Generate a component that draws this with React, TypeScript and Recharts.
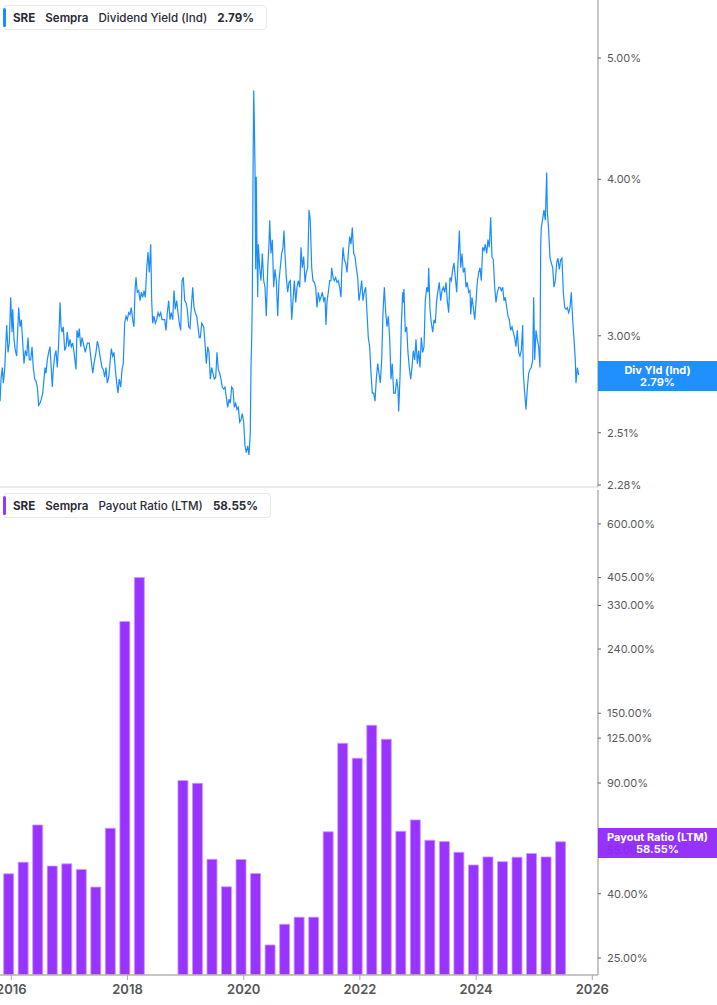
import { LineChart, Line, BarChart, Bar, XAxis, YAxis } from 'recharts';

// Dividend yield (Ind), % (decimal year, value)
const yieldDates = [
  2015.806, 2015.822, 2015.845, 2015.862, 2015.886, 2015.92, 2015.943, 2015.965, 2015.989, 2016.012,
  2016.024, 2016.046, 2016.068, 2016.092, 2016.103, 2016.127, 2016.149, 2016.172, 2016.196, 2016.218,
  2016.24, 2016.265, 2016.287, 2016.309, 2016.333, 2016.356, 2016.378, 2016.402, 2016.425, 2016.447,
  2016.471, 2016.493, 2016.516, 2016.54, 2016.562, 2016.58, 2016.597, 2016.619, 2016.643, 2016.666,
  2016.688, 2016.705, 2016.722, 2016.746, 2016.769, 2016.791, 2016.815, 2016.838, 2016.855, 2016.872,
  2016.894, 2016.919, 2016.941, 2016.963, 2016.987, 2017.01, 2017.032, 2017.056, 2017.079, 2017.113,
  2017.13, 2017.153, 2017.17, 2017.194, 2017.216, 2017.239, 2017.273, 2017.308, 2017.342, 2017.366,
  2017.401, 2017.423, 2017.457, 2017.48, 2017.504, 2017.526, 2017.561, 2017.583, 2017.607, 2017.629,
  2017.652, 2017.676, 2017.698, 2017.721, 2017.745, 2017.767, 2017.79, 2017.814, 2017.836, 2017.858,
  2017.883, 2017.905, 2017.927, 2017.951, 2017.974, 2017.996, 2018.02, 2018.043, 2018.065, 2018.089,
  2018.111, 2018.129, 2018.146, 2018.168, 2018.192, 2018.215, 2018.237, 2018.261, 2018.284, 2018.306,
  2018.33, 2018.352, 2018.375, 2018.399, 2018.416, 2018.433, 2018.456, 2018.478, 2018.502, 2018.525,
  2018.547, 2018.571, 2018.593, 2018.616, 2018.64, 2018.662, 2018.685, 2018.709, 2018.731, 2018.753,
  2018.778, 2018.8, 2018.822, 2018.846, 2018.869, 2018.891, 2018.915, 2018.938, 2018.96, 2018.984,
  2019.006, 2019.029, 2019.053, 2019.075, 2019.098, 2019.122, 2019.144, 2019.167, 2019.191, 2019.213,
  2019.235, 2019.253, 2019.277, 2019.311, 2019.333, 2019.356, 2019.38, 2019.402, 2019.425, 2019.449,
  2019.471, 2019.494, 2019.518, 2019.54, 2019.562, 2019.586, 2019.609, 2019.631, 2019.655, 2019.678,
  2019.7, 2019.724, 2019.747, 2019.769, 2019.793, 2019.815, 2019.838, 2019.862, 2019.884, 2019.907,
  2019.931, 2019.953, 2019.975, 2019.999, 2020.022, 2020.044, 2020.068, 2020.091, 2020.113, 2020.125,
  2020.137, 2020.148, 2020.16, 2020.172, 2020.182, 2020.194, 2020.206, 2020.216, 2020.228, 2020.241,
  2020.251, 2020.275, 2020.297, 2020.32, 2020.344, 2020.366, 2020.389, 2020.413, 2020.435, 2020.447,
  2020.469, 2020.492, 2020.516, 2020.538, 2020.561, 2020.585, 2020.607, 2020.629, 2020.653, 2020.676,
  2020.693, 2020.71, 2020.733, 2020.757, 2020.779, 2020.802, 2020.826, 2020.848, 2020.871, 2020.895,
  2020.917, 2020.939, 2020.964, 2020.986, 2021.008, 2021.032, 2021.055, 2021.077, 2021.101, 2021.124,
  2021.146, 2021.17, 2021.192, 2021.215, 2021.239, 2021.261, 2021.284, 2021.308, 2021.33, 2021.353,
  2021.377, 2021.399, 2021.416, 2021.433, 2021.456, 2021.48, 2021.502, 2021.514, 2021.537, 2021.559,
  2021.583, 2021.605, 2021.628, 2021.652, 2021.674, 2021.686, 2021.709, 2021.731, 2021.755, 2021.778,
  2021.8, 2021.824, 2021.846, 2021.869, 2021.893, 2021.915, 2021.938, 2021.962, 2021.984, 2022.006,
  2022.031, 2022.053, 2022.075, 2022.099, 2022.122, 2022.144, 2022.168, 2022.191, 2022.213, 2022.237,
  2022.26, 2022.282, 2022.306, 2022.328, 2022.351, 2022.375, 2022.397, 2022.42, 2022.444, 2022.466,
  2022.489, 2022.513, 2022.535, 2022.557, 2022.581, 2022.609, 2022.633, 2022.655, 2022.667, 2022.69,
  2022.712, 2022.736, 2022.747, 2022.758, 2022.781, 2022.805, 2022.827, 2022.85, 2022.874, 2022.896,
  2022.919, 2022.943, 2022.965, 2022.988, 2023.012, 2023.034, 2023.056, 2023.081, 2023.103, 2023.125,
  2023.15, 2023.172, 2023.184, 2023.206, 2023.229, 2023.253, 2023.275, 2023.297, 2023.321, 2023.344,
  2023.366, 2023.39, 2023.413, 2023.435, 2023.459, 2023.482, 2023.504, 2023.528, 2023.55, 2023.573,
  2023.597, 2023.619, 2023.642, 2023.666, 2023.688, 2023.711, 2023.735, 2023.757, 2023.779, 2023.804,
  2023.826, 2023.848, 2023.872, 2023.895, 2023.907, 2023.929, 2023.952, 2023.976, 2023.998, 2024.02,
  2024.044, 2024.067, 2024.089, 2024.113, 2024.136, 2024.158, 2024.182, 2024.204, 2024.227, 2024.251,
  2024.273, 2024.296, 2024.32, 2024.342, 2024.365, 2024.389, 2024.411, 2024.434, 2024.458, 2024.48,
  2024.502, 2024.527, 2024.549, 2024.571, 2024.595, 2024.618, 2024.64, 2024.664, 2024.686, 2024.709,
  2024.733, 2024.755, 2024.778, 2024.802, 2024.812, 2024.836, 2024.858, 2024.881, 2024.905, 2024.927,
  2024.95, 2024.974, 2024.991, 2025.008, 2025.031, 2025.053, 2025.077, 2025.099, 2025.112, 2025.122,
  2025.146, 2025.168, 2025.191, 2025.215, 2025.225, 2025.249, 2025.272, 2025.294, 2025.318, 2025.34,
  2025.363, 2025.387, 2025.409, 2025.432, 2025.456, 2025.478, 2025.501, 2025.525, 2025.547, 2025.569,
  2025.594, 2025.616, 2025.638, 2025.662, 2025.685, 2025.707, 2025.719, 2025.742, 2025.766,
];
const yieldValues = [
  2.66, 2.77, 2.83, 2.75, 2.82, 3.06, 2.91, 2.96, 3.22, 3.02,
  3.15, 2.98, 2.92, 2.89, 2.98, 3.16, 3.05, 3.09, 2.96, 2.85,
  2.92, 2.89, 2.99, 2.87, 2.87, 2.94, 2.83, 2.77, 2.76, 2.73,
  2.64, 2.65, 2.67, 2.7, 2.77, 2.83, 2.8, 2.87, 2.91, 2.94,
  2.82, 2.73, 2.82, 2.89, 2.92, 2.83, 2.96, 3.19, 3.05, 3.02,
  3.05, 2.92, 2.94, 3.02, 2.94, 2.98, 2.94, 2.96, 2.91, 2.82,
  3.03, 2.99, 3.04, 2.94, 2.99, 2.96, 2.91, 2.96, 2.96, 2.89,
  2.8, 2.85, 2.91, 2.97, 2.94, 2.89, 2.83, 2.82, 2.78, 2.83,
  2.75, 2.78, 2.85, 2.93, 2.89, 2.91, 2.82, 2.75, 2.7, 2.77,
  2.73, 2.82, 2.85, 3.07, 3.11, 3.09, 3.13, 3.12, 3.16, 3.09,
  3.05, 3.26, 3.34, 3.25, 3.26, 3.2, 3.25, 3.22, 3.26, 3.22,
  3.39, 3.5, 3.37, 3.55, 3.2, 3.07, 3.11, 3.07, 3.09, 3.13,
  3.11, 3.13, 3.09, 3.09, 3.09, 3.03, 3.13, 3.2, 3.09, 3.13,
  3.09, 3.26, 3.15, 3.2, 3.13, 3.07, 3.03, 3.32, 3.34, 3.2,
  3.19, 3.15, 3.05, 3.04, 3.16, 3.28, 3.16, 3.13, 3.11, 3.05,
  2.99, 2.99, 3.07, 3.05, 2.96, 2.85, 2.94, 2.91, 2.77, 2.83,
  2.8, 2.77, 2.78, 2.91, 2.82, 2.8, 2.77, 2.73, 2.72, 2.73,
  2.68, 2.63, 2.67, 2.65, 2.73, 2.72, 2.63, 2.65, 2.62, 2.63,
  2.56, 2.57, 2.6, 2.56, 2.45, 2.42, 2.45, 2.41, 2.51, 2.83,
  2.98, 3.22, 4.0, 4.71, 4.46, 4.09, 3.39, 4.02, 3.53, 3.22,
  3.55, 3.4, 3.32, 3.49, 3.32, 3.28, 3.11, 3.4, 3.55, 3.71,
  3.49, 3.58, 3.28, 3.39, 3.32, 3.11, 3.32, 3.4, 3.49, 3.53,
  3.64, 3.49, 3.34, 3.25, 3.31, 3.32, 3.09, 3.2, 3.32, 3.19,
  3.28, 3.32, 3.28, 3.53, 3.4, 3.47, 3.31, 3.37, 3.4, 3.78,
  3.71, 3.4, 3.32, 3.31, 3.28, 3.16, 3.25, 3.2, 3.22, 3.25,
  3.2, 3.22, 3.06, 3.19, 3.25, 3.32, 3.32, 3.4, 3.34, 3.32,
  3.34, 3.31, 3.32, 3.28, 3.22, 3.37, 3.53, 3.45, 3.43, 3.37,
  3.49, 3.6, 3.55, 3.66, 3.49, 3.47, 3.4, 3.34, 3.2, 3.25,
  3.32, 3.2, 3.25, 3.28, 3.13, 2.99, 2.94, 2.8, 2.7, 2.7,
  2.66, 2.77, 2.85, 2.8, 2.75, 2.87, 3.13, 3.28, 3.13, 3.05,
  3.11, 2.98, 2.77, 2.85, 2.7, 2.7, 2.77, 2.72, 2.61, 2.78,
  3.05, 3.25, 3.19, 3.27, 3.02, 3.05, 2.91, 2.83, 2.77, 2.83,
  2.92, 2.87, 2.98, 2.85, 2.92, 2.83, 2.99, 2.91, 2.94, 3.2,
  3.28, 3.25, 3.4, 3.15, 3.07, 3.02, 3.09, 3.07, 3.2, 3.26,
  3.31, 3.2, 3.26, 3.28, 3.25, 3.31, 3.2, 3.13, 3.34, 3.32,
  3.39, 3.43, 3.34, 3.25, 3.43, 3.64, 3.4, 3.49, 3.37, 3.4,
  3.28, 3.31, 3.25, 3.26, 3.12, 3.22, 3.16, 3.09, 3.19, 3.31,
  3.37, 3.4, 3.32, 3.53, 3.51, 3.55, 3.49, 3.58, 3.53, 3.73,
  3.47, 3.45, 3.28, 3.19, 3.25, 3.28, 3.28, 3.26, 3.28, 3.2,
  3.22, 3.16, 3.11, 3.09, 3.03, 3.05, 3.02, 2.99, 2.94, 3.03,
  2.91, 2.89, 2.92, 3.06, 2.8, 2.7, 2.62, 2.72, 2.8, 2.82,
  2.83, 2.87, 3.22, 2.87, 3.03, 2.98, 2.94, 2.83, 3.55, 3.66,
  3.72, 3.78, 3.71, 4.05, 3.78, 3.64, 3.46, 3.43, 3.4, 3.28,
  3.32, 3.43, 3.46, 3.39, 3.45, 3.46, 3.25, 3.16, 3.15, 3.16,
  3.13, 3.16, 3.25, 3.09, 2.98, 2.87, 2.75, 2.83, 2.79,
];
const yieldTicks = [2.28, 2.51, 3, 4, 5];

// Payout ratio (LTM), %, quarterly; null = not shown
const payoutQuarters = [
  '2015-12', '2016-03', '2016-06', '2016-09', '2016-12', '2017-03', '2017-06', '2017-09', '2017-12', '2018-03',
  '2018-06', '2018-09', '2018-12', '2019-03', '2019-06', '2019-09', '2019-12', '2020-03', '2020-06', '2020-09',
  '2020-12', '2021-03', '2021-06', '2021-09', '2021-12', '2022-03', '2022-06', '2022-09', '2022-12', '2023-03',
  '2023-06', '2023-09', '2023-12', '2024-03', '2024-06', '2024-09', '2024-12', '2025-03', '2025-06',
];
const payoutValues = [
  46.3, 50.4, 66.2, 49.0, 49.8, 47.8, 42.0, 64.6, 293.5, 405,
  null, null, 91.6, 89.8, 51.5, 42.1, 51.4, 46.4, 27.5, 32.0,
  33.7, 33.7, 63.0, 120.4, 107.9, 137.4, 124.0, 63.2, 68.7, 59.2,
  58.6, 54.2, 49.4, 52.4, 50.6, 52.3, 53.7, 52.4, 58.55,
];
const payoutTicks = [25, 40, 55, 90, 125, 150, 240, 330, 405, 600];
const yearTicks = [2016, 2018, 2020, 2022, 2024, 2026];

const toYear = (ym: string) => {
  const [y, m] = ym.split('-').map(Number);
  return y + (m - 0.5) / 12;
};

const yieldData = yieldDates.map((t, i) => ({ t, v: yieldValues[i] }));
const payoutData = payoutQuarters
  .map((q, i) => ({ t: toYear(q), v: payoutValues[i] }))
  .filter((d) => d.v != null);

const X_DOMAIN: [number, number] = [2015.805, 2026.098];
const FONT = 'Inter, "Noto Sans", sans-serif';
const BLUE = '#1a8cff';
const PURPLE = '#9933ff';

const pct = (v: number) => `${v.toFixed(2)}%`;

// value tag sitting on the right axis
function EndTag({ top, bg, title, value }: { top: number; bg: string; title: string; value: string }) {
  return (
    <div
      style={{
        position: 'absolute',
        left: 598,
        top,
        width: 119,
        height: 30,
        background: bg,
        color: '#fff',
        fontFamily: FONT,
        fontSize: 11,
        fontWeight: 700,
        lineHeight: '12px',
        textAlign: 'center',
        display: 'flex',
        flexDirection: 'column',
        justifyContent: 'center',
      }}
    >
      <span>{title}</span>
      <span>{value}</span>
    </div>
  );
}

function Legend({ top, color, name, value }: { top: number; color: string; name: string; value: string }) {
  return (
    <div
      style={{
        position: 'absolute',
        left: 3,
        top,
        height: 25,
        boxSizing: 'border-box',
        display: 'flex',
        alignItems: 'center',
        padding: '0 12px 0 9px',
        border: '1px solid #e8e8e8',
        borderRadius: 4,
        background: '#fff',
        fontFamily: FONT,
        fontSize: 11.6,
        color: '#2a2a36',
        whiteSpace: 'nowrap',
      }}
    >
      <div style={{ position: 'absolute', left: -1, top: 2, bottom: 2, width: 3, background: color, borderRadius: 2 }} />
      <span style={{ fontWeight: 700 }}>SRE</span>
      <span style={{ fontWeight: 600, marginLeft: 10 }}>Sempra</span>
      <span style={{ fontWeight: 500, marginLeft: 10 }}>{name}</span>
      <span style={{ fontWeight: 650, marginLeft: 10 }}>{value}</span>
    </div>
  );
}

const yTick = { fontSize: 11, fill: '#5a5a5a', fontFamily: FONT };

export default function App() {
  return (
    <div style={{ position: 'absolute', left: 0, top: 0, width: 717, height: 1005, background: '#fff', overflow: 'hidden' }}>
      <div style={{ position: 'absolute', left: 0, top: 488 }}>
        <BarChart width={717} height={517} data={payoutData} margin={{ top: 2, right: 0, bottom: 0, left: 0 }}>
          <XAxis
            dataKey="t"
            type="number"
            domain={X_DOMAIN}
            allowDataOverflow
            ticks={yearTicks}
            interval={0}
            tickFormatter={(v: number) => String(v)}
            height={30}
            tick={{ fontSize: 13, fill: '#555', fontWeight: 600, fontFamily: FONT }}
            tickSize={5}
            tickMargin={5}
            tickLine={{ stroke: '#aaa' }}
            axisLine={{ stroke: '#b3b3b3', strokeWidth: 1.5 }}
          />
          <YAxis
            orientation="right"
            type="number"
            scale="log"
            domain={[22.07, 769]}
            allowDataOverflow
            ticks={payoutTicks}
            interval={0}
            tickFormatter={pct}
            width={119}
            tick={yTick}
            tickSize={3}
            tickMargin={6}
            tickLine={{ stroke: '#666' }}
            axisLine={{ stroke: '#b3b3b3', strokeWidth: 1.5 }}
          />
          <Bar dataKey="v" fill={PURPLE} stroke="#c99cff" strokeWidth={0.8} barSize={10} isAnimationActive={false} />
        </BarChart>
      </div>
      <div style={{ position: 'absolute', left: 0, top: 0 }}>
        {/* taller than the panel so the lowest tick label is not clipped */}
        <LineChart width={717} height={500} data={yieldData} margin={{ top: 0, right: 0, bottom: 12, left: 0 }}>
          <XAxis
            dataKey="t"
            type="number"
            domain={X_DOMAIN}
            allowDataOverflow
            height={1}
            tick={false}
            tickLine={false}
            axisLine={{ stroke: '#d6d6d6' }}
          />
          <YAxis
            orientation="right"
            type="number"
            scale="log"
            domain={[2.2716, 5.563]}
            allowDataOverflow
            ticks={yieldTicks}
            interval={0}
            tickFormatter={pct}
            width={119}
            tick={yTick}
            tickSize={3}
            tickMargin={6}
            tickLine={{ stroke: '#666' }}
            axisLine={{ stroke: '#b3b3b3', strokeWidth: 1.5 }}
          />
          <Line
            type="linear"
            dataKey="v"
            stroke={BLUE}
            strokeWidth={1.2}
            dot={false}
            activeDot={false}
            isAnimationActive={false}
          />
        </LineChart>
      </div>
      <EndTag top={361} bg="rgba(26,140,255,0.97)" title="Div Yld (Ind)" value="2.79%" />
      <EndTag top={828} bg="rgba(142,36,250,0.93)" title="Payout Ratio (LTM)" value="58.55%" />
      <Legend top={5} color={BLUE} name="Dividend Yield (Ind)" value="2.79%" />
      <Legend top={493} color={PURPLE} name="Payout Ratio (LTM)" value="58.55%" />
    </div>
  );
}
